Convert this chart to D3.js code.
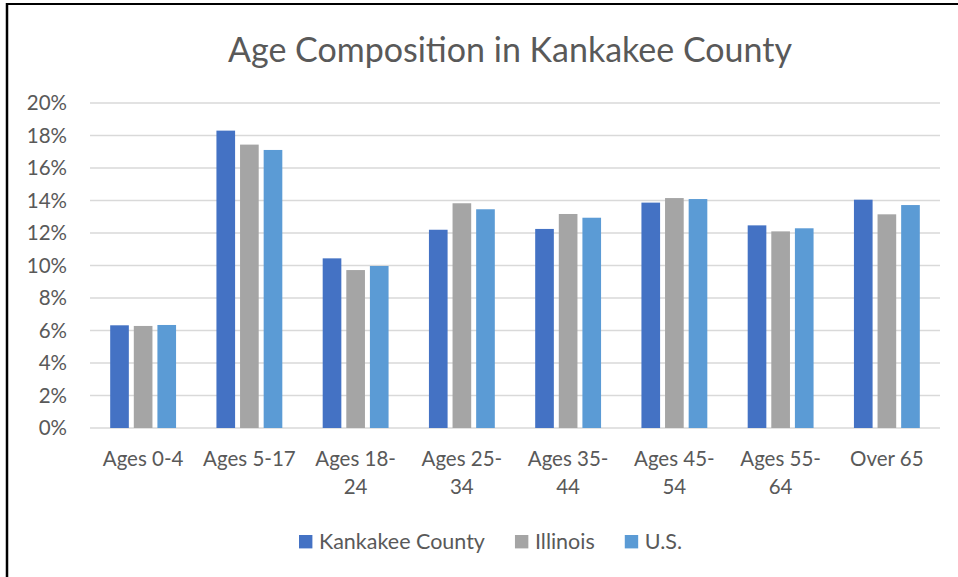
<!DOCTYPE html>
<html>
<head>
<meta charset="utf-8">
<script src="https://cdn.jsdelivr.net/npm/d3@7"></script>
<style>
  body { margin: 0; background: #fff; }
  svg { display: block; font-family: Lato, 'Noto Sans', sans-serif; }
  .grid line { stroke: #d9d9d9; stroke-width: 1.4; }
  text { fill: #595959; }
</style>
</head>
<body>
<script>
const WIDTH = 958
const HEIGHT = 577

const PLOT = { left: 90, right: 940, top: 103, bottom: 428 }

const TITLE = 'Age Composition in Kankakee County'

// data
const categories = ['Ages 0-4', 'Ages 5-17', 'Ages 18-24', 'Ages 25-34',
                    'Ages 35-44', 'Ages 45-54', 'Ages 55-64', 'Over 65']
const seriesNames = ['Kankakee County', 'Illinois', 'U.S.']
const kankakee = [6.32, 18.30, 10.44, 12.20, 12.25, 13.87, 12.47, 14.05]
const illinois = [6.28, 17.44, 9.72, 13.83, 13.17, 14.15, 12.10, 13.15]
const us = [6.34, 17.11, 9.97, 13.46, 12.94, 14.09, 12.29, 13.72]
const yTicks = [0, 2, 4, 6, 8, 10, 12, 14, 16, 18, 20]

const COLORS = ['#4472c4', '#a5a5a5', '#5b9bd5']

const values = [kankakee, illinois, us]
const rows = categories.map((c, i) => ({
  category: c,
  bars: seriesNames.map((s, j) => ({ series: s, value: values[j][i] }))
}))

const svg = d3.select('body').append('svg')
  .attr('width', WIDTH)
  .attr('height', HEIGHT)

// frame (cropped screenshot: only left and top edges show)
svg.append('line')
  .attr('x1', 7).attr('x2', 7).attr('y1', 3).attr('y2', HEIGHT)
  .attr('stroke', '#000').attr('stroke-width', 2.5)
svg.append('line')
  .attr('x1', 6).attr('x2', WIDTH).attr('y1', 4).attr('y2', 4)
  .attr('stroke', '#000').attr('stroke-width', 2)

// scales
const x0 = d3.scaleBand()
  .domain(categories)
  .range([PLOT.left, PLOT.right])
  .paddingInner(0.38)
  .paddingOuter(0.19)

const x1 = d3.scaleBand()
  .domain(seriesNames)
  .range([0, x0.bandwidth()])
  .paddingInner(0.21)

const y = d3.scaleLinear()
  .domain([0, 20])
  .range([PLOT.bottom, PLOT.top])

const color = d3.scaleOrdinal().domain(seriesNames).range(COLORS)

// title
svg.append('text')
  .attr('x', 510)
  .attr('y', 62)
  .attr('text-anchor', 'middle')
  .style('font-size', '34px')
  .text(TITLE)

// gridlines
svg.append('g')
    .attr('class', 'grid')
  .selectAll('line')
    .data(yTicks)
  .enter().append('line')
    .attr('x1', PLOT.left)
    .attr('x2', PLOT.right)
    .attr('y1', (d) => y(d))
    .attr('y2', (d) => y(d))

// y axis labels
svg.append('g')
  .selectAll('text')
    .data(yTicks)
  .enter().append('text')
    .attr('x', 67)
    .attr('y', (d) => y(d))
    .attr('dy', '.36em')
    .attr('text-anchor', 'end')
    .style('font-size', '20.5px')
    .text((d) => d + '%')

// bars
svg.append('g')
  .selectAll('g')
    .data(rows)
  .enter().append('g')
    .attr('transform', (d) => 'translate(' + x0(d.category) + ',0)')
  .selectAll('rect')
    .data((d) => d.bars)
  .enter().append('rect')
    .attr('x', (d) => x1(d.series))
    .attr('width', x1.bandwidth())
    .attr('y', (d) => y(d.value))
    .attr('height', (d) => y(0) - y(d.value))
    .attr('fill', (d) => color(d.series))

// x axis labels, wrapped after the hyphen like the original
svg.append('g')
  .selectAll('text')
    .data(categories)
  .enter().append('text')
    .attr('text-anchor', 'middle')
    .style('font-size', '20.5px')
    .each(function(d) {
      let lines = d.length > 9 ? [d.slice(0, d.lastIndexOf('-') + 1), d.slice(d.lastIndexOf('-') + 1)] : [d]
      let cx = x0(d) + x0.bandwidth() / 2
      d3.select(this).selectAll('tspan')
          .data(lines)
        .enter().append('tspan')
          .attr('x', cx)
          .attr('y', (l, i) => 466 + i * 28)
          .text((l) => l)
    })

// legend
const legend = svg.append('g')
let lx = 299
seriesNames.forEach((s) => {
  legend.append('rect')
    .attr('x', lx)
    .attr('y', 535)
    .attr('width', 13.4)
    .attr('height', 13.4)
    .attr('fill', color(s))
  let t = legend.append('text')
    .attr('x', lx + 20)
    .attr('y', 548.5)
    .style('font-size', '21.5px')
    .text(s)
  lx += 20 + t.node().getComputedTextLength() + 30
})
</script>
</body>
</html>
